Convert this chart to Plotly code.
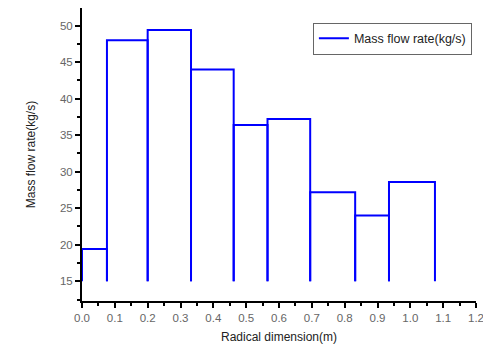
import plotly.graph_objects as go

# Bin edges (m) and mass flow rate per bin (kg/s)
edges = [0.0, 0.076, 0.2, 0.332, 0.462, 0.565, 0.695, 0.832, 0.935, 1.075]
flow = [19.4, 48.0, 49.4, 44.0, 36.4, 37.2, 27.2, 24.0, 28.6]
base = 15
x_ticks = [0.0, 0.1, 0.2, 0.3, 0.4, 0.5, 0.6, 0.7, 0.8, 0.9, 1.0, 1.1, 1.2]
y_ticks = [15, 20, 25, 30, 35, 40, 45, 50]

xs, ys = [], []
for i, h in enumerate(flow):
    l, r = edges[i], edges[i + 1]
    xs += [l, l, r, r, None]
    ys += [base, h, h, base, None]

fig = go.Figure()
fig.add_trace(go.Scatter(
    x=xs, y=ys, mode="lines", name="Mass flow rate(kg/s)",
    line=dict(color="#0000FF", width=2), connectgaps=False,
))

# page body has an 8px default margin, so the figure is sized/offset for it
fig.update_layout(
    width=483, height=338,
    margin=dict(l=74, r=15, t=0, b=45),
    paper_bgcolor="white", plot_bgcolor="white",
    font=dict(family="Liberation Sans, Arial", size=11, color="#222"),
    showlegend=True,
    legend=dict(
        x=0.586, y=0.95, xanchor="left", yanchor="top",
        bordercolor="#666", borderwidth=1, bgcolor="white",
        font=dict(size=12.5, color="#222"),
        tracegroupgap=0, itemwidth=30,
    ),
)
fig.update_xaxes(
    range=[0, 1.2], tickvals=x_ticks, ticktext=[f"{v:.1f}" for v in x_ticks],
    showline=True, linecolor="black", linewidth=2,
    ticks="outside", ticklen=5, tickwidth=1.5, tickcolor="black",
    minor=dict(ticks="outside", ticklen=3, tickcolor="black", dtick=0.05, tick0=0),
    showgrid=False, zeroline=False, automargin=False,
    tickfont=dict(color="#666", size=11.5),
    title=dict(text="Radical dimension(m)", font=dict(size=12, color="#222"), standoff=10),
)
fig.update_yaxes(
    range=[12.3, 52.4], tickvals=y_ticks,
    showline=True, linecolor="black", linewidth=2,
    ticks="outside", ticklen=5, tickwidth=1.5, tickcolor="black",
    minor=dict(ticks="outside", ticklen=3, tickcolor="black", dtick=2.5, tick0=15),
    showgrid=False, zeroline=False, automargin=False,
    tickfont=dict(color="#666", size=11.5),
    title=dict(text="Mass flow rate(kg/s)", font=dict(size=12, color="#222"), standoff=22),
)

fig.write_html("out.html")
